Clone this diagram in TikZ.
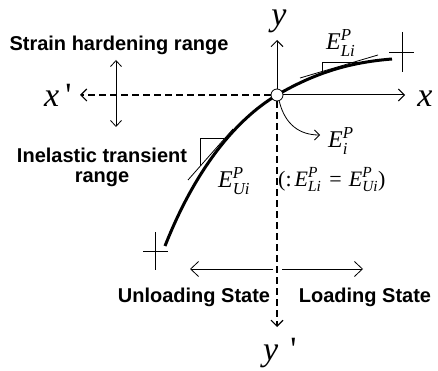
\documentclass[tikz,border=0pt]{standalone}
\usepackage{amsmath}
\usepackage{fontspec}
\setmainfont{Liberation Serif}
\newfontfamily\lsans{Liberation Sans}
\usetikzlibrary{arrows.meta}
\begin{document}
\begin{tikzpicture}[x=1pt,y=-1pt,
  thinline/.style={line width=0.8pt},
  axis/.style={line width=1pt,-{Straight Barb[length=6pt,width=12pt]}},
  daxis/.style={axis,line width=1.1pt,dash pattern=on 7pt off 4pt},
  statearrow/.style={line width=0.8pt,-{Straight Barb[length=8pt,width=15pt]}},
  rangearrow/.style={line width=0.8pt,{Straight Barb[length=6pt,width=11pt]}-{Straight Barb[length=6pt,width=11pt]}},
  thickcurve/.style={line width=3pt},
  lbl/.style={inner sep=0pt,font=\fontsize{20}{20.5}\selectfont\lsans\bfseries},
  axlbl/.style={inner sep=0pt,font=\fontsize{34}{36}\selectfont\itshape},
  elbl/.style={inner sep=0pt,font=\fontsize{24}{26}\selectfont},
]
\useasboundingbox (0,0) rectangle (438,371);
% key points
\coordinate (o) at (277,95);
\coordinate (xe) at (405,95);
\coordinate (xw) at (80,95);
\coordinate (yn) at (277,40);
\coordinate (ys) at (277,327);
\coordinate (cL) at (165,246);
\coordinate (cR) at (392,59);
% curve
\draw[thickcurve] (cL) .. controls (195,170) and (235,120) .. (o)
                   .. controls (320,70) and (355,62) .. (cR);
% end crosses
\coordinate (crT) at (402,32); \coordinate (crB) at (402,72);
\coordinate (crL) at (389,52); \coordinate (crR) at (414,52);
\draw[thinline] (crT) -- (crB);
\draw[thinline] (crL) -- (crR);
\coordinate (clT) at (155,232); \coordinate (clB) at (155,270);
\coordinate (clL) at (143,251); \coordinate (clR) at (168,251);
\draw[thinline] (clT) -- (clB);
\draw[thinline] (clL) -- (clR);
% tangents with slope triangles
\coordinate (tu1) at (300,78); \coordinate (tu2) at (378,55);
\draw[thinline] (tu1) -- (tu2);
\coordinate (su1) at (322,72); \coordinate (su2) at (322,62); \coordinate (su3) at (366,62);
\draw[thinline] (su1) -- (su2) -- (su3);
\coordinate (tl1) at (188,180); \coordinate (tl2) at (233,129);
\draw[thinline] (tl1) -- (tl2);
\coordinate (sl1) at (200,166); \coordinate (sl2) at (200,138); \coordinate (sl3) at (224,138);
\draw[thinline] (sl1) -- (sl2) -- (sl3);
% origin
\node[circle,draw,fill=white,thinline,minimum size=12pt,inner sep=0pt] (O) at (o) {};
\draw[axis] (O) -- (xe);
\draw[daxis] (O) -- (xw);
\draw[axis] (O) -- (yn);
\draw[daxis] (O) -- (ys);
% axis labels
\node[axlbl,anchor=base] (xl) at (425,107) {x};
\node[axlbl,anchor=base west] (xpl) at (44,107) {x\hspace{6pt}\upshape\textquotesingle};
\node[axlbl,anchor=base] (yl) at (279,26) {y};
\node[axlbl,anchor=base west] (ypl) at (263,360) {y\hspace{12pt}\upshape\textquotesingle};
% range arrows
\coordinate (ru) at (116,60); \coordinate (rd) at (116,127);
\draw[rangearrow] (ru) -- (rd);
\node[lbl,anchor=base] (shr) at (119,51) {Strain hardening range};
\node[lbl,anchor=north,align=center] (itr) at (102,147.5) {Inelastic transient\\range};
% state arrows
\coordinate (sa1) at (273,269); \coordinate (sa2) at (190,269);
\coordinate (sb1) at (282,269); \coordinate (sb2) at (363,269);
\draw[statearrow] (sa1) -- (sa2);
\draw[statearrow] (sb1) -- (sb2);
\node[lbl,anchor=base] (us) at (194,302) {Unloading State};
\node[lbl,anchor=base] (ls) at (365,302) {Loading State};
% modulus labels
\node[elbl,anchor=base west] (eli) at (326,50) {$\textit{E}^{\textit{P}}_{\textit{Li}}$};
\node[elbl,anchor=base west] (eui) at (218,188) {$\textit{E}^{\textit{P}}_{\textit{Ui}}$};
\node[elbl,anchor=base west] (ei) at (328,148) {$\textit{E}^{\textit{P}}_{\textit{i}}$};
\node[elbl,anchor=base west,font=\fontsize{22}{24}\selectfont] (eq) at (278,186) {(:\hspace{3pt}$\textit{E}^{\textit{P}}_{\textit{Li}}$\hspace{8pt}=\hspace{7pt}$\textit{E}^{\textit{P}}_{\textit{Ui}}$)};
\coordinate (eitip) at (320,135);
\draw[thinline,-{Straight Barb[length=5pt,width=10pt]}] (O.-70) .. controls (285,125) and (300,135) .. (eitip);
\end{tikzpicture}
\end{document}
